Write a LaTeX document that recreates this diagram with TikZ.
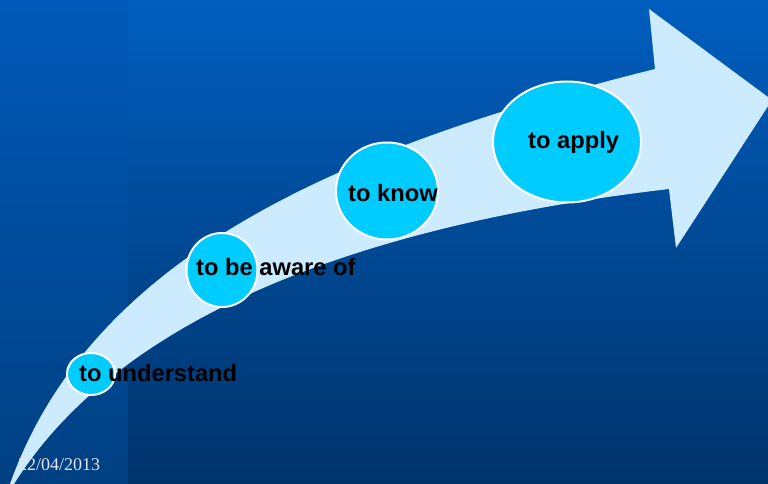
\documentclass[tikz,border=0pt]{standalone}
\usepackage{fontspec}
\setmainfont{Liberation Serif}
\newfontfamily\labelfont{Liberation Sans}
\usetikzlibrary{shapes.geometric}
\definecolor{bgtopR}{HTML}{005EBF}
\definecolor{bgbotR}{HTML}{00336A}
\definecolor{bgtopL}{HTML}{0059B8}
\definecolor{bgbotL}{HTML}{004082}
\definecolor{arrowfill}{HTML}{CCEBFF}
\definecolor{bubblefill}{HTML}{00CCFF}
\definecolor{datecol}{HTML}{E4E4F2}
\tikzset{
  bubble/.style={ellipse, draw=white, line width=2pt, fill=bubblefill, inner sep=0pt},
  steplabel/.style={anchor=base west, inner sep=0pt, font=\labelfont\bfseries\fontsize{23.7}{26}\selectfont, text=black},
  datelabel/.style={anchor=base west, inner sep=0pt, font=\fontsize{18}{20}\selectfont, text=datecol}
}
\begin{document}
\begin{tikzpicture}[x=1pt,y=-1pt]
\useasboundingbox (0,0) rectangle (768,484);
\clip (0,0) rectangle (768,484);
\shade[top color=bgtopR, bottom color=bgbotR] (128,0) rectangle (768,484);
\shade[top color=bgtopL, bottom color=bgbotL] (0,0) rectangle (128,484);
% arrow
\coordinate (tailU) at (10,484);
\coordinate (tailL) at (14,484);
\coordinate (neckU) at (655,69);
\coordinate (barbU) at (649,9);
\coordinate (tip) at (772,100);
\coordinate (barbL) at (676,248);
\coordinate (neckL) at (669,189);
\fill[arrowfill] (tailU) .. controls (90,260) and (330,150) .. (neckU)
  -- (barbU) -- (tip) -- (barbL) -- (neckL)
  .. controls (370,224) and (122,312) .. (tailL) -- cycle;
% bubbles
\node[bubble, minimum width=48pt, minimum height=42pt] (b1) at (91,374) {};
\node[bubble, minimum width=71pt, minimum height=74pt] (b2) at (222,270) {};
\node[bubble, minimum width=102pt, minimum height=97pt] (b3) at (387,191) {};
\node[bubble, minimum width=148pt, minimum height=121pt] (b4) at (567,142) {};
% labels
\node[steplabel] (t1) at (79,381) {to understand};
\node[steplabel] (t2) at (196,275) {to be aware of};
\node[steplabel] (t3) at (348,201) {to know};
\node[steplabel] (t4) at (528,149) {to apply};
\node[datelabel] (date) at (18,470) {22/04/2013};
\end{tikzpicture}
\end{document}
